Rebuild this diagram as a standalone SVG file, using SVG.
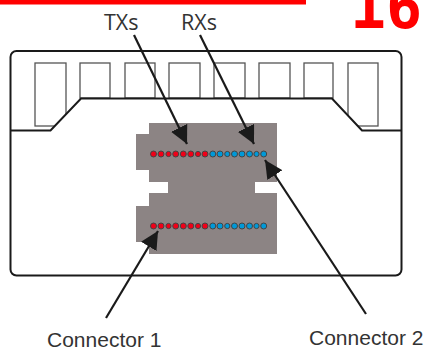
<svg xmlns="http://www.w3.org/2000/svg" width="424" height="348" viewBox="0 0 424 348">
<style>
.pin{fill:#fff;stroke:#555;stroke-width:1.3}
.body{fill:none;stroke:#1a1a1a;stroke-width:2}
.lbl{font-family:"Open Sans",sans-serif;font-size:21.5px;fill:#333}
.con{font-family:"Liberation Sans",sans-serif;font-size:21px;fill:#333}
.arr{fill:none;stroke:#1a1a1a;stroke-width:2.2}
.r{fill:#f00018;stroke:#444;stroke-width:1}
.b{fill:#0099d8;stroke:#444;stroke-width:1}
</style>
<defs>
<marker id="ah" viewBox="0 0 18 18" refX="18" refY="9" markerWidth="18" markerHeight="18" markerUnits="userSpaceOnUse" orient="auto"><path d="M0 0L18 9L0 18Z" fill="#1a1a1a"/></marker>
<g id="rw"><circle class="r" cx="153.5" cy="0" r="3"/><circle class="r" cx="161" cy="0" r="3"/><circle class="r" cx="168.5" cy="0" r="2.6"/><circle class="r" cx="175.7" cy="0" r="3"/><circle class="r" cx="183.3" cy="0" r="3"/><circle class="r" cx="190.8" cy="0" r="3"/><circle class="r" cx="198" cy="0" r="2.6"/><circle class="r" cx="205" cy="0" r="3"/><circle class="b" cx="212.8" cy="0" r="3"/><circle class="b" cx="220" cy="0" r="3"/><circle class="b" cx="227.3" cy="0" r="2.6"/><circle class="b" cx="234.5" cy="0" r="3"/><circle class="b" cx="242" cy="0" r="3"/><circle class="b" cx="249.5" cy="0" r="3"/><circle class="b" cx="256.5" cy="0" r="2.6"/><circle class="b" cx="263.7" cy="0" r="3"/></g>
</defs>
<rect width="424" height="348" fill="#fff"/>
<rect x="0" y="0" width="306" height="4.5" fill="#ff0000"/>
<text x="350" y="27.5" font-family="'DejaVu Sans Mono',monospace" font-weight="700" font-size="60" fill="#ff0000">16</text>
<g id="housing">
<rect x="35" y="63" width="31" height="63" class="pin"/>
<rect x="80" y="63" width="30" height="35" class="pin"/>
<rect x="125" y="63" width="30" height="35" class="pin"/>
<rect x="169" y="63" width="31" height="35" class="pin"/>
<rect x="214" y="63" width="31" height="35" class="pin"/>
<rect x="259" y="63" width="31" height="35" class="pin"/>
<rect x="304" y="63" width="29" height="35" class="pin"/>
<rect x="348" y="63" width="30" height="63" class="pin"/>
<path fill="#fff" d="M11 130.5H50.5L81 98.5H332L362 130.5H401V275H11Z"/>
<rect x="10.5" y="51" width="391" height="224.5" rx="6" class="body"/>
<path class="body" d="M11 130.5H50.5L81 98.5H332L362 130.5H401"/>
</g>
<g id="board">
<path fill="#8c8484" d="M149 123H277V182H255V193H277V254H149V242H136V206H149V193H168V182H149V170H136V134H149Z"/>
<use href="#rw" y="154"/>
<use href="#rw" y="226"/>
</g>
<g id="connectors">
<line class="arr" x1="134" y1="35" x2="187" y2="144" marker-end="url(#ah)"/>
<line class="arr" x1="200" y1="35" x2="254" y2="144" marker-end="url(#ah)"/>
<line class="arr" x1="106" y1="318" x2="158" y2="231" marker-end="url(#ah)"/>
<line class="arr" x1="366" y1="314" x2="265" y2="160" marker-end="url(#ah)"/>
</g>
<g id="labels">
<text class="lbl" x="104" y="30">TXs</text>
<text class="lbl" x="181" y="30">RXs</text>
<text class="con" x="47" y="347">Connector 1</text>
<text class="con" x="309" y="345">Connector 2</text>
</g>
</svg>
